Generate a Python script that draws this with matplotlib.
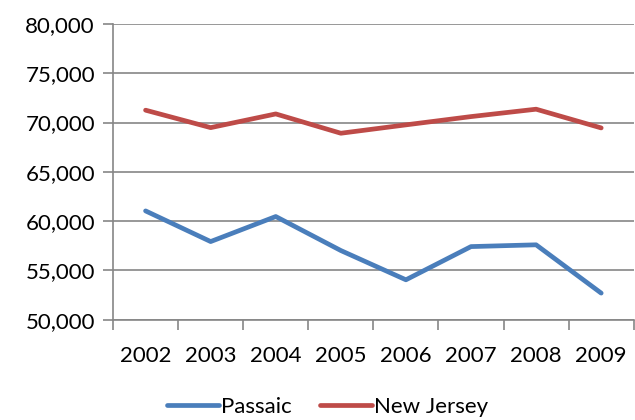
import matplotlib
matplotlib.use("Agg")
import matplotlib.pyplot as plt
import numpy as np

years = ["2002", "2003", "2004", "2005", "2006", "2007", "2008", "2009"]
passaic = [61030, 57920, 60460, 57010, 54040, 57410, 57590, 52690]
new_jersey = [71250, 69480, 70870, 68910, 69760, 70600, 71350, 69450]

plt.rcParams['font.family'] = ['Lato', 'DejaVu Sans']
grey = "#868686"

fig = plt.figure(figsize=(6.35, 4.2), dpi=100)
ax = fig.add_axes([0.178, 0.239, 0.82, 0.704])

x = np.arange(len(years))
ax.plot(x, passaic, color="#4A7EBB", lw=3.4, solid_capstyle="round", label="Passaic")
ax.plot(x, new_jersey, color="#BE4B48", lw=3.4, solid_capstyle="round", label="New Jersey")

ax.set_xlim(-0.5, len(years) - 0.5)
ax.set_ylim(50000, 80000)
ax.set_yticks(np.arange(50000, 80001, 5000))
ax.set_yticklabels([f"{v:,}" for v in range(50000, 80001, 5000)])
ax.yaxis.grid(True, color=grey, lw=1.2)
ax.set_axisbelow(True)

# categories sit between tick marks
ax.set_xticks(np.arange(-0.5, len(years), 1.0))
ax.set_xticklabels([])
ax.set_xticks(x, minor=True)
ax.set_xticklabels(years, minor=True)
ax.tick_params(axis="x", which="minor", length=0, pad=19, labelsize=16)
ax.tick_params(axis="x", which="major", length=7, width=1.2, color=grey)
ax.tick_params(axis="y", length=7, width=1.2, color=grey, pad=6, labelsize=16)

for s in ["top", "right"]:
    ax.spines[s].set_visible(False)
for s in ["left", "bottom"]:
    ax.spines[s].set_color(grey)
    ax.spines[s].set_linewidth(1.2)

fig.legend(loc="center", bbox_to_anchor=(0.516, 0.032), ncol=2, frameon=False,
           fontsize=16, handlelength=2.3, handletextpad=0.1, columnspacing=1.3)

plt.savefig("out.png", dpi=100)
